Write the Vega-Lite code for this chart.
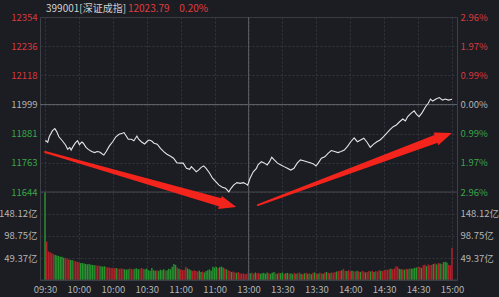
{
  "$schema": "https://vega.github.io/schema/vega-lite/v6.json",
  "width": 417,
  "height": 263,
  "autosize": {"type": "none"},
  "padding": {"left": 40, "top": 17, "right": 42, "bottom": 17},
  "background": "#1b1d23",
  "config": {
    "view": {"stroke": "#3d4046", "fill": null},
    "font": "Noto Sans CJK SC",
    "axis": {"domain": false, "ticks": false, "labelFont": "Noto Sans CJK SC", "labelFontSize": 9.5, "labelFlush": false, "labelOverlap": false, "labelBound": false, "gridColor": "#33363d", "gridDash": [2, 2], "gridWidth": 1, "labelPadding": 3, "labelColor": "#b4b4b4"},
    "axisX": {"values": [0, 30, 60, 90, 120, 150, 180, 210, 240], "labelExpr": "['09:30','10:00','10:30','11:00','13:00','13:30','14:00','14:30','15:00'][round(datum.value/30)]", "grid": true, "labelPadding": 4, "labelColor": "#b4b4b4"}
  },
  "datasets": {
    "price": [
      {"m":0,"p":11851},{"m":0.6,"p":11852},{"m":1.6,"p":11846},{"m":2.5,"p":11868},{"m":4.4,"p":11893},{"m":5.8,"p":11901},{"m":6.9,"p":11889},{"m":8.2,"p":11868},{"m":10.2,"p":11852},{"m":12.1,"p":11835},{"m":13.4,"p":11817},{"m":14.6,"p":11825},{"m":15.4,"p":11814},{"m":16.5,"p":11828},{"m":17.8,"p":11842},{"m":19.2,"p":11852},{"m":20.3,"p":11836},{"m":21.7,"p":11847},{"m":22.6,"p":11842},{"m":24.2,"p":11825},{"m":25.5,"p":11817},{"m":27.5,"p":11808},{"m":29.3,"p":11804},{"m":30.7,"p":11808},{"m":32.2,"p":11806},{"m":33.8,"p":11798},{"m":34.7,"p":11794},{"m":36.1,"p":11808},{"m":38,"p":11831},{"m":39.9,"p":11848},{"m":41.8,"p":11868},{"m":43.7,"p":11878},{"m":45.6,"p":11882},{"m":46.6,"p":11885},{"m":47.9,"p":11871},{"m":49.1,"p":11858},{"m":51,"p":11858},{"m":52.4,"p":11852},{"m":54.2,"p":11871},{"m":55.2,"p":11858},{"m":56.8,"p":11848},{"m":58.7,"p":11839},{"m":60.6,"p":11852},{"m":61.4,"p":11855},{"m":62.9,"p":11851},{"m":64.3,"p":11842},{"m":66.2,"p":11838},{"m":68.1,"p":11821},{"m":70,"p":11808},{"m":71.9,"p":11797},{"m":73.8,"p":11790},{"m":75.8,"p":11781},{"m":77.7,"p":11763},{"m":79.6,"p":11761},{"m":81.5,"p":11761},{"m":83.4,"p":11740},{"m":85.3,"p":11736},{"m":86.3,"p":11747},{"m":87.9,"p":11736},{"m":89.2,"p":11726},{"m":90.5,"p":11733},{"m":92.1,"p":11744},{"m":93.6,"p":11750},{"m":95,"p":11740},{"m":96.9,"p":11722},{"m":98.8,"p":11700},{"m":100.7,"p":11686},{"m":102.6,"p":11672},{"m":104.6,"p":11663},{"m":106.5,"p":11659},{"m":108.4,"p":11645},{"m":109.7,"p":11659},{"m":111.2,"p":11672},{"m":113.2,"p":11682},{"m":115.1,"p":11679},{"m":117,"p":11682},{"m":118,"p":11679},{"m":119.5,"p":11672},{"m":120.9,"p":11700},{"m":122.8,"p":11726},{"m":124.7,"p":11740},{"m":125.6,"p":11754},{"m":127.6,"p":11767},{"m":129.5,"p":11761},{"m":131,"p":11754},{"m":132.4,"p":11767},{"m":133.7,"p":11785},{"m":135.2,"p":11774},{"m":137.1,"p":11761},{"m":139.1,"p":11754},{"m":141,"p":11747},{"m":142.9,"p":11740},{"m":144.9,"p":11733},{"m":146.8,"p":11740},{"m":148.7,"p":11761},{"m":150.6,"p":11774},{"m":152.5,"p":11771},{"m":154.4,"p":11767},{"m":156.4,"p":11763},{"m":158.3,"p":11758},{"m":159.8,"p":11750},{"m":161.1,"p":11761},{"m":163,"p":11781},{"m":165,"p":11787},{"m":166.9,"p":11801},{"m":168.8,"p":11812},{"m":170.8,"p":11808},{"m":172.7,"p":11804},{"m":174.6,"p":11808},{"m":176.5,"p":11814},{"m":178.4,"p":11829},{"m":180.3,"p":11848},{"m":182.3,"p":11864},{"m":184.2,"p":11848},{"m":186.1,"p":11855},{"m":188,"p":11862},{"m":189.9,"p":11846},{"m":191.8,"p":11825},{"m":193.8,"p":11838},{"m":195.7,"p":11848},{"m":197.6,"p":11855},{"m":199.5,"p":11868},{"m":201.4,"p":11882},{"m":203.3,"p":11896},{"m":205.3,"p":11909},{"m":207.2,"p":11916},{"m":209.1,"p":11929},{"m":211,"p":11940},{"m":212.5,"p":11932},{"m":213.9,"p":11950},{"m":215.8,"p":11963},{"m":217.7,"p":11973},{"m":219.1,"p":11959},{"m":220.6,"p":11950},{"m":222.5,"p":11967},{"m":224.4,"p":11990},{"m":226,"p":12004},{"m":227.3,"p":12021},{"m":228.6,"p":12013},{"m":230.6,"p":12021},{"m":232.5,"p":12027},{"m":234.4,"p":12017},{"m":236,"p":12021},{"m":237.9,"p":12017},{"m":240,"p":12020}
    ],
    "vol": [
      {"m":0,"v":197,"d":"d"},{"m":1,"v":86,"d":"u"},{"m":2,"v":64,"d":"u"},{"m":3,"v":62,"d":"u"},{"m":4,"v":60,"d":"u"},{"m":5,"v":58,"d":"u"},{"m":6,"v":56,"d":"d"},{"m":7,"v":55,"d":"d"},{"m":8,"v":54,"d":"d"},{"m":9,"v":52,"d":"d"},
      {"m":10,"v":52,"d":"d"},{"m":11,"v":50,"d":"d"},{"m":12,"v":49,"d":"u"},{"m":13,"v":48,"d":"u"},{"m":14,"v":46,"d":"u"},{"m":15,"v":45,"d":"d"},{"m":16,"v":45,"d":"d"},{"m":17,"v":43,"d":"u"},{"m":18,"v":42,"d":"u"},{"m":19,"v":41,"d":"u"},
      {"m":20,"v":40,"d":"u"},{"m":21,"v":38,"d":"d"},{"m":22,"v":38,"d":"d"},{"m":23,"v":37,"d":"d"},{"m":24,"v":36,"d":"d"},{"m":25,"v":35,"d":"d"},{"m":26,"v":36,"d":"d"},{"m":27,"v":34,"d":"d"},{"m":28,"v":34,"d":"d"},{"m":29,"v":33,"d":"d"},
      {"m":30,"v":33,"d":"u"},{"m":31,"v":32,"d":"u"},{"m":32,"v":32,"d":"u"},{"m":33,"v":31,"d":"d"},{"m":34,"v":30,"d":"d"},{"m":35,"v":31,"d":"d"},{"m":36,"v":29,"d":"u"},{"m":37,"v":28,"d":"u"},{"m":38,"v":28,"d":"u"},{"m":39,"v":27,"d":"u"},
      {"m":40,"v":27,"d":"u"},{"m":41,"v":26,"d":"u"},{"m":42,"v":27,"d":"d"},{"m":43,"v":26,"d":"u"},{"m":44,"v":25,"d":"u"},{"m":45,"v":26,"d":"u"},{"m":46,"v":25,"d":"u"},{"m":47,"v":24,"d":"d"},{"m":48,"v":23,"d":"d"},{"m":49,"v":24,"d":"d"},
      {"m":50,"v":26,"d":"u"},{"m":51,"v":25,"d":"u"},{"m":52,"v":24,"d":"u"},{"m":53,"v":25,"d":"d"},{"m":54,"v":26,"d":"d"},{"m":55,"v":24,"d":"d"},{"m":56,"v":25,"d":"u"},{"m":57,"v":27,"d":"u"},{"m":58,"v":25,"d":"u"},{"m":59,"v":24,"d":"d"},
      {"m":60,"v":26,"d":"d"},{"m":61,"v":22,"d":"d"},{"m":62,"v":21,"d":"d"},{"m":63,"v":27,"d":"d"},{"m":64,"v":22,"d":"d"},{"m":65,"v":21,"d":"d"},{"m":66,"v":22,"d":"u"},{"m":67,"v":20,"d":"d"},{"m":68,"v":23,"d":"d"},{"m":69,"v":22,"d":"d"},
      {"m":70,"v":24,"d":"d"},{"m":71,"v":21,"d":"u"},{"m":72,"v":22,"d":"d"},{"m":73,"v":25,"d":"d"},{"m":74,"v":24,"d":"d"},{"m":75,"v":30,"d":"d"},{"m":76,"v":36,"d":"d"},{"m":77,"v":34,"d":"d"},{"m":78,"v":28,"d":"u"},{"m":79,"v":25,"d":"d"},
      {"m":80,"v":24,"d":"u"},{"m":81,"v":22,"d":"u"},{"m":82,"v":23,"d":"u"},{"m":83,"v":30,"d":"u"},{"m":84,"v":26,"d":"d"},{"m":85,"v":24,"d":"d"},{"m":86,"v":22,"d":"d"},{"m":87,"v":20,"d":"u"},{"m":88,"v":22,"d":"u"},{"m":89,"v":20,"d":"u"},
      {"m":90,"v":19,"d":"u"},{"m":91,"v":21,"d":"d"},{"m":92,"v":18,"d":"d"},{"m":93,"v":19,"d":"u"},{"m":94,"v":17,"d":"d"},{"m":95,"v":20,"d":"d"},{"m":96,"v":22,"d":"d"},{"m":97,"v":24,"d":"d"},{"m":98,"v":21,"d":"d"},{"m":99,"v":30,"d":"d"},
      {"m":100,"v":28,"d":"d"},{"m":101,"v":30,"d":"d"},{"m":102,"v":27,"d":"u"},{"m":103,"v":29,"d":"d"},{"m":104,"v":30,"d":"d"},{"m":105,"v":28,"d":"d"},{"m":106,"v":26,"d":"u"},{"m":107,"v":24,"d":"d"},{"m":108,"v":22,"d":"u"},{"m":109,"v":20,"d":"u"},
      {"m":110,"v":18,"d":"d"},{"m":111,"v":19,"d":"u"},{"m":112,"v":17,"d":"u"},{"m":113,"v":16,"d":"d"},{"m":114,"v":18,"d":"u"},{"m":115,"v":15,"d":"u"},{"m":116,"v":14,"d":"u"},{"m":117,"v":15,"d":"u"},{"m":118,"v":13,"d":"u"},{"m":119,"v":14,"d":"u"},
      {"m":120,"v":18,"d":"u"},{"m":121,"v":15,"d":"d"},{"m":122,"v":16,"d":"u"},{"m":123,"v":14,"d":"u"},{"m":124,"v":17,"d":"d"},{"m":125,"v":15,"d":"u"},{"m":126,"v":16,"d":"u"},{"m":127,"v":14,"d":"d"},{"m":128,"v":15,"d":"d"},{"m":129,"v":16,"d":"d"},
      {"m":130,"v":14,"d":"d"},{"m":131,"v":17,"d":"d"},{"m":132,"v":15,"d":"u"},{"m":133,"v":14,"d":"d"},{"m":134,"v":16,"d":"d"},{"m":135,"v":18,"d":"d"},{"m":136,"v":15,"d":"u"},{"m":137,"v":14,"d":"d"},{"m":138,"v":16,"d":"u"},{"m":139,"v":15,"d":"d"},
      {"m":140,"v":17,"d":"d"},{"m":141,"v":14,"d":"u"},{"m":142,"v":15,"d":"d"},{"m":143,"v":16,"d":"d"},{"m":144,"v":14,"d":"u"},{"m":145,"v":15,"d":"d"},{"m":146,"v":13,"d":"d"},{"m":147,"v":16,"d":"u"},{"m":148,"v":14,"d":"d"},{"m":149,"v":15,"d":"u"},
      {"m":150,"v":17,"d":"u"},{"m":151,"v":14,"d":"d"},{"m":152,"v":13,"d":"u"},{"m":153,"v":15,"d":"d"},{"m":154,"v":16,"d":"u"},{"m":155,"v":14,"d":"d"},{"m":156,"v":15,"d":"u"},{"m":157,"v":13,"d":"d"},{"m":158,"v":16,"d":"u"},{"m":159,"v":17,"d":"d"},
      {"m":160,"v":15,"d":"u"},{"m":161,"v":14,"d":"d"},{"m":162,"v":16,"d":"u"},{"m":163,"v":15,"d":"u"},{"m":164,"v":14,"d":"d"},{"m":165,"v":17,"d":"u"},{"m":166,"v":18,"d":"d"},{"m":167,"v":16,"d":"u"},{"m":168,"v":15,"d":"d"},{"m":169,"v":17,"d":"u"},
      {"m":170,"v":16,"d":"u"},{"m":171,"v":18,"d":"u"},{"m":172,"v":19,"d":"d"},{"m":173,"v":20,"d":"u"},{"m":174,"v":21,"d":"u"},{"m":175,"v":22,"d":"d"},{"m":176,"v":25,"d":"u"},{"m":177,"v":21,"d":"u"},{"m":178,"v":20,"d":"d"},{"m":179,"v":22,"d":"u"},
      {"m":180,"v":19,"d":"u"},{"m":181,"v":21,"d":"d"},{"m":182,"v":20,"d":"u"},{"m":183,"v":19,"d":"u"},{"m":184,"v":21,"d":"d"},{"m":185,"v":19,"d":"u"},{"m":186,"v":18,"d":"d"},{"m":187,"v":20,"d":"u"},{"m":188,"v":19,"d":"u"},{"m":189,"v":17,"d":"d"},
      {"m":190,"v":18,"d":"u"},{"m":191,"v":20,"d":"u"},{"m":192,"v":19,"d":"d"},{"m":193,"v":21,"d":"u"},{"m":194,"v":18,"d":"d"},{"m":195,"v":20,"d":"u"},{"m":196,"v":19,"d":"u"},{"m":197,"v":22,"d":"u"},{"m":198,"v":21,"d":"d"},{"m":199,"v":20,"d":"u"},
      {"m":200,"v":22,"d":"u"},{"m":201,"v":23,"d":"u"},{"m":202,"v":23,"d":"u"},{"m":203,"v":24,"d":"u"},{"m":204,"v":25,"d":"d"},{"m":205,"v":24,"d":"u"},{"m":206,"v":26,"d":"u"},{"m":207,"v":31,"d":"u"},{"m":208,"v":30,"d":"u"},{"m":209,"v":25,"d":"d"},
      {"m":210,"v":24,"d":"d"},{"m":211,"v":24,"d":"u"},{"m":212,"v":23,"d":"d"},{"m":213,"v":25,"d":"u"},{"m":214,"v":24,"d":"d"},{"m":215,"v":26,"d":"u"},{"m":216,"v":25,"d":"d"},{"m":217,"v":26,"d":"d"},{"m":218,"v":27,"d":"d"},{"m":219,"v":28,"d":"d"},
      {"m":220,"v":30,"d":"u"},{"m":221,"v":29,"d":"u"},{"m":222,"v":27,"d":"d"},{"m":223,"v":33,"d":"u"},{"m":224,"v":34,"d":"u"},{"m":225,"v":31,"d":"d"},{"m":226,"v":35,"d":"u"},{"m":227,"v":33,"d":"u"},{"m":228,"v":34,"d":"u"},{"m":229,"v":36,"d":"d"},
      {"m":230,"v":37,"d":"u"},{"m":231,"v":35,"d":"d"},{"m":232,"v":38,"d":"u"},{"m":233,"v":37,"d":"d"},{"m":234,"v":36,"d":"u"},{"m":235,"v":40,"d":"d"},{"m":236,"v":41,"d":"d"},{"m":237,"v":39,"d":"d"},{"m":238,"v":34,"d":"u"},{"m":239,"v":33,"d":"u"},
      {"m":240,"v":72,"d":"u"}
    ],
    "arrows": [
      {"a":1,"part":"s","m":0,"p":11806},{"a":1,"part":"e","m":105.0,"p":11598.6},
      {"a":2,"part":"s","m":125.5,"p":11591},{"a":2,"part":"e","m":232.4,"p":11864}
    ],
    "heads": [
      {"a":1,"m":112.8,"p":11583},{"a":2,"m":240,"p":11883.4}
    ],
    "header": [
      {"code":"399001[深证成指]","last":12023.79,"pct":"0.20%"}
    ]
  },
  "layer": [
    {
      "layer": [
        {
          "data": {"name": "vol"},
          "mark": {"type": "bar", "size": 1.4, "orient": "vertical"},
          "encoding": {
            "x": {"field": "m", "type": "quantitative", "title": null, "scale": {"domain": [0, 240], "nice": false}},
            "y": {"field": "v", "type": "quantitative", "title": null, "scale": {"domain": [0, 590.2], "nice": false},
                  "axis": {"orient": "left", "values": [49.37, 98.75, 148.12], "labelExpr": "format(datum.value, '.2f') + '亿'", "grid": true, "title": null}},
            "color": {"field": "d", "type": "nominal", "scale": {"domain": ["u", "d"], "range": ["#b3222a", "#27952f"]}, "legend": null}
          }
        },
        {
          "data": {"values": [{}]},
          "mark": {"type": "rule", "color": "#3d4046"},
          "encoding": {
            "y": {"datum": 0, "type": "quantitative", "scale": {"domain": [0, 590.2], "nice": false},
                  "axis": {"orient": "right", "values": [49.37, 98.75, 148.12], "labelExpr": "format(datum.value, '.2f') + '亿'", "grid": false, "title": null}}
          }
        }
      ],
      "resolve": {"axis": {"y": "independent"}}
    },
    {
      "layer": [
        {
          "data": {"values": [{}]},
          "mark": {"type": "rule", "color": "#5b5e64", "strokeWidth": 1},
          "encoding": {
            "y": {"datum": 11999, "type": "quantitative", "scale": {"domain": [11287, 12354], "nice": false, "zero": false},
                  "axis": {"orient": "right", "values": [11644, 11763, 11881, 11999, 12118, 12236, 12354], "labelExpr": "format(round(abs(datum.value-11999)/118)*0.987, '.2f') + '%'", "grid": false, "title": null,
                           "labelColor": {"condition": [{"test": "datum.value > 12000", "value": "#d9393d"}, {"test": "datum.value < 11998", "value": "#3aa548"}], "value": "#b4b4b4"}}}
          }
        },
        {
          "data": {"values": [{}]},
          "mark": {"type": "rule", "color": "#44474d", "strokeWidth": 1},
          "encoding": {
            "y": {"datum": 11644, "type": "quantitative", "scale": {"domain": [11287, 12354], "nice": false, "zero": false}, "axis": null}
          }
        },
        {
          "data": {"values": [{}]},
          "mark": {"type": "rule", "color": "#55585e", "strokeWidth": 1},
          "encoding": {
            "x": {"datum": 120, "type": "quantitative", "title": null}
          }
        },
        {
          "data": {"name": "price"},
          "mark": {"type": "line", "color": "#e4e4e4", "strokeWidth": 1.1},
          "encoding": {
            "x": {"field": "m", "type": "quantitative", "title": null, "scale": {"domain": [0, 240], "nice": false}},
            "y": {"field": "p", "type": "quantitative", "title": null, "scale": {"domain": [11287, 12354], "nice": false, "zero": false},
                  "axis": {"orient": "left", "values": [11644, 11763, 11881, 11999, 12118, 12236, 12354], "format": "d", "grid": true, "title": null,
                           "labelColor": {"condition": [{"test": "datum.value > 12000", "value": "#d9393d"}, {"test": "datum.value < 11998", "value": "#3aa548"}], "value": "#b4b4b4"}}}
          }
        },
        {
          "data": {"name": "arrows"},
          "mark": {"type": "trail", "color": "#f3241c"},
          "encoding": {
            "x": {"field": "m", "type": "quantitative", "title": null},
            "y": {"field": "p", "type": "quantitative", "title": null, "scale": {"domain": [11287, 12354], "nice": false, "zero": false}, "axis": null},
            "detail": {"field": "a", "type": "nominal"},
            "size": {"field": "part", "type": "ordinal", "scale": {"domain": ["s", "e"], "range": [2, 8.5]}, "legend": null}
          }
        },
        {
          "data": {"name": "heads"},
          "transform": [{"filter": "datum.a == 1"}],
          "mark": {"type": "point", "shape": "M0,0L-2,-0.8L-2,0.8Z", "size": 289, "filled": true, "color": "#f3241c", "opacity": 1, "strokeWidth": 0, "angle": 15.7},
          "encoding": {
            "x": {"field": "m", "type": "quantitative", "title": null},
            "y": {"field": "p", "type": "quantitative", "title": null, "scale": {"domain": [11287, 12354], "nice": false, "zero": false}, "axis": null}
          }
        },
        {
          "data": {"name": "heads"},
          "transform": [{"filter": "datum.a == 2"}],
          "mark": {"type": "point", "shape": "M0,0L-2,-0.8L-2,0.8Z", "size": 289, "filled": true, "color": "#f3241c", "opacity": 1, "strokeWidth": 0, "angle": 340.1},
          "encoding": {
            "x": {"field": "m", "type": "quantitative", "title": null},
            "y": {"field": "p", "type": "quantitative", "title": null, "scale": {"domain": [11287, 12354], "nice": false, "zero": false}, "axis": null}
          }
        },
        {
          "data": {"name": "header"},
          "mark": {"type": "text", "align": "left", "baseline": "middle", "fontSize": 10, "color": "#cfcfcf", "font": "Noto Sans CJK SC"},
          "encoding": {
            "x": {"datum": 0.6, "type": "quantitative", "title": null},
            "y": {"datum": 12386.5, "type": "quantitative", "scale": {"domain": [11287, 12354], "nice": false, "zero": false}, "axis": null},
            "text": {"field": "code"}
          }
        },
        {
          "data": {"name": "header"},
          "mark": {"type": "text", "align": "left", "baseline": "middle", "fontSize": 10, "color": "#e03c3c", "font": "Noto Sans CJK SC"},
          "encoding": {
            "x": {"datum": 48.9, "type": "quantitative", "title": null},
            "y": {"datum": 12386.5, "type": "quantitative", "scale": {"domain": [11287, 12354], "nice": false, "zero": false}, "axis": null},
            "text": {"field": "last", "format": ".2f"}
          }
        },
        {
          "data": {"name": "header"},
          "mark": {"type": "text", "align": "left", "baseline": "middle", "fontSize": 10, "color": "#e03c3c", "font": "Noto Sans CJK SC"},
          "encoding": {
            "x": {"datum": 79.2, "type": "quantitative", "title": null},
            "y": {"datum": 12386.5, "type": "quantitative", "scale": {"domain": [11287, 12354], "nice": false, "zero": false}, "axis": null},
            "text": {"field": "pct"}
          }
        }
      ],
      "resolve": {"axis": {"y": "independent"}}
    }
  ],
  "resolve": {"scale": {"y": "independent"}}
}
